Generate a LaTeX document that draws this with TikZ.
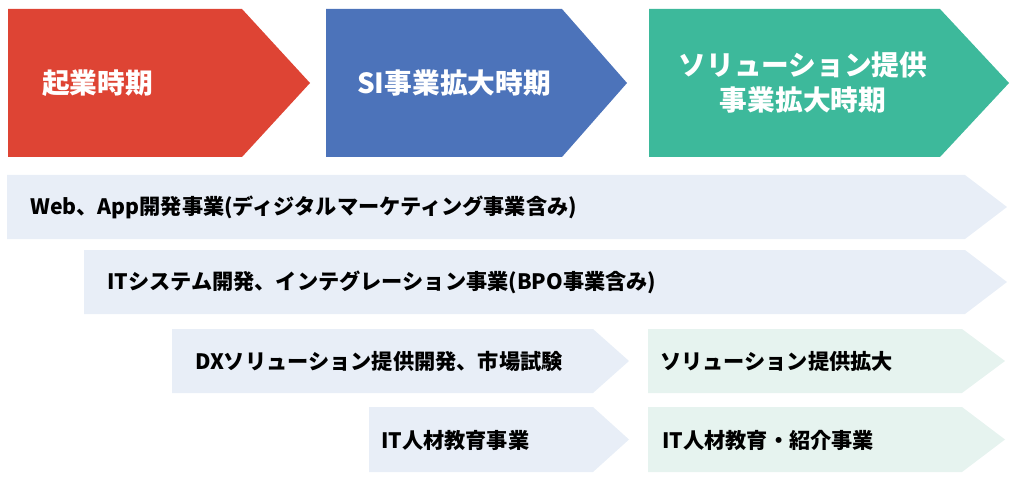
\documentclass[tikz,border=0pt]{standalone}
\usepackage{xcolor}
\usepackage{fontspec}
\setmainfont{Noto Sans CJK JP}
\usepackage{tikz}
\usetikzlibrary{positioning}

\definecolor{phaseRed}{RGB}{222,68,52}
\definecolor{phaseBlue}{RGB}{76,115,186}
\definecolor{phaseGreen}{RGB}{61,185,155}
\definecolor{barBlue}{RGB}{232,238,247}
\definecolor{barGreen}{RGB}{230,243,239}

\begin{document}
\begin{tikzpicture}[x=1pt, y=-1pt,
    toptext/.style={inner sep=0pt, text=white, font=\fontsize{27.7}{35}\selectfont\bfseries},
    bartext/.style={inner sep=0pt, anchor=west, text=black, font=\fontsize{21.2}{25}\selectfont\bfseries}]
    \useasboundingbox (0,0) rectangle (1024,481);

    % phases
    \foreach \xl/\xb/\xt/\col in {8/242/310/phaseRed, 326/562/627/phaseBlue, 649/940/1009/phaseGreen} {
        \fill[\col] (\xl,9) -- (\xb,9) -- (\xt,83) -- (\xb,157) -- (\xl,157) -- cycle;
    }
    \node[toptext, anchor=west] (kigyo) at (42,83) {起業時期};
    \node[toptext, anchor=west] (si) at (357,83) {SI事業拡大時期};
    \node[toptext, align=center] (solution) at (803,83) {ソリューション提供\\事業拡大時期};

    % business bars
    \foreach \xl/\xb/\xt/\yt/\yb/\col in {7/965/1007/175/239/barBlue, 84/965/1007/250/314/barBlue,
        172/593/629/329/393/barBlue, 648/962/1005/329/393/barGreen,
        369/593/629/407/472/barBlue, 648/962/1005/407/472/barGreen} {
        \fill[\col] (\xl,\yt) -- (\xb,\yt) -- (\xt,{(\yt+\yb)/2}) -- (\xb,\yb) -- (\xl,\yb) -- cycle;
    }
    \node[bartext] (web) at (30,207) {Web、App開発事業(ディジタルマーケティング事業含み)};
    \node[bartext] (itsys) at (107,282) {ITシステム開発、インテグレーション事業(BPO事業含み)};
    \node[bartext] (dx) at (195,361) {DXソリューション提供開発、市場試験};
    \node[bartext] (solexp) at (660,361) {ソリューション提供拡大};
    \node[bartext] (itedu) at (381,440) {IT人材教育事業};
    \node[bartext] (itintro) at (662,440) {IT人材教育・紹介事業};
\end{tikzpicture}
\end{document}
